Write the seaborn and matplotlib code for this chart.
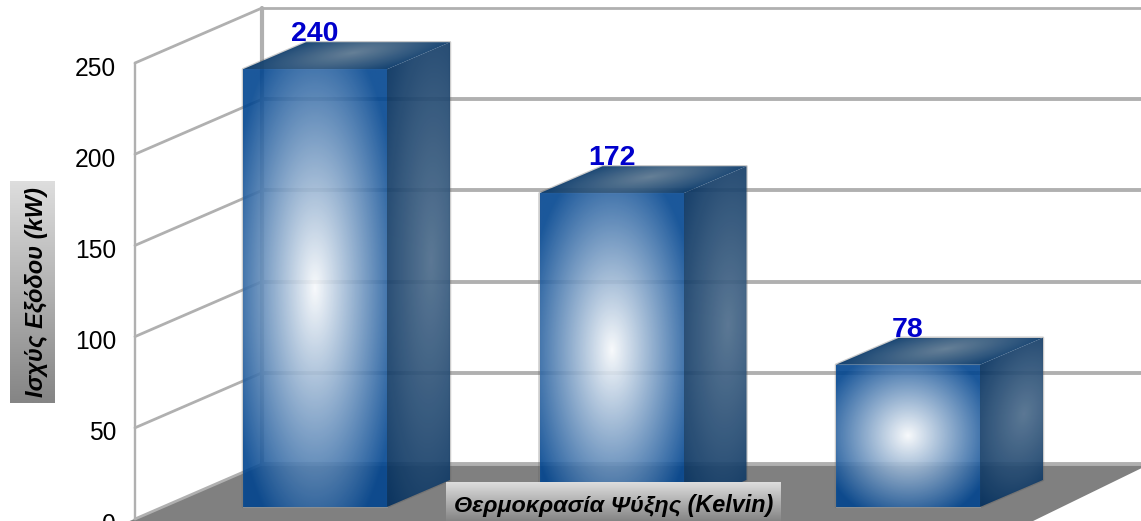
import numpy as np
import matplotlib
matplotlib.use("Agg")
import matplotlib.pyplot as plt
from matplotlib.patches import Polygon
from matplotlib.transforms import ScaledTranslation
import seaborn as sns

# ---- data ----
categories = ["Α", "Β", "Γ"]
values = [240, 172, 78]
y_ticks = [0, 50, 100, 150, 200, 250]
y_title = "Ισχύς Εξόδου (kW)"
x_title = "Θερμοκρασία Ψύξης (Kelvin)"

# ---- style / geometry ----
W, H, DPI = 1141, 521, 100
X0_PX, STEP_PX = 315.0, 296.5       # first bar centre, bar spacing
BASE_PX, UNIT_PX = 507.0, 1.824     # bar baseline, px per value unit
BAR_W = 144.0 / STEP_PX
BAR_DX, BAR_DV = 63.0 / STEP_PX, 27.0 / UNIT_PX
WALL_F = ((135.0 - X0_PX) / STEP_PX, (BASE_PX - 519.0) / UNIT_PX)
WALL_B = ((262.0 - X0_PX) / STEP_PX, (BASE_PX - 464.0) / UNIT_PX)
RIGHT = (1150.0 - X0_PX) / STEP_PX
FLOOR_L = (125.0 - X0_PX) / STEP_PX
FLOOR_R = (1029.0 - X0_PX) / STEP_PX
FLOOR_F = (BASE_PX - 523.0) / UNIT_PX
GRID = "#b0b0b0"

sns.set_style("white")
plt.rcParams["font.family"] = ["Liberation Sans", "DejaVu Sans"]

fig = plt.figure(figsize=(W / DPI, H / DPI), dpi=DPI, facecolor="white")
ax = fig.add_axes([0, 0, 1, 1], facecolor="none")

sns.barplot(x=categories, y=values, color="#1a5a9a", saturation=1, width=BAR_W,
            alpha=0.22, zorder=2, ax=ax)

xlim = (-X0_PX / STEP_PX, (W - X0_PX) / STEP_PX)
ylim = ((BASE_PX - H) / UNIT_PX, BASE_PX / UNIT_PX)


def face(origin, e1, e2, center, inner, outer, alpha, rad, power=1.0, z=3):
    """Paint a radial gradient on the parallelogram origin + u*e1 + v*e2."""
    o, a, b = map(np.asarray, (origin, e1, e2))
    pts = np.array([o, o + a, o + a + b, o + b])
    xs = np.linspace(pts[:, 0].min(), pts[:, 0].max(), 220)
    ys = np.linspace(pts[:, 1].min(), pts[:, 1].max(), 220)
    gx, gy = np.meshgrid(xs, ys)
    M = np.linalg.inv(np.array([a, b]).T)
    u = M[0, 0] * (gx - o[0]) + M[0, 1] * (gy - o[1])
    v = M[1, 0] * (gx - o[0]) + M[1, 1] * (gy - o[1])
    r = np.hypot((u - center[0]) / rad[0], (v - center[1]) / rad[1])
    t = np.clip(r, 0, 1)[..., None] ** power
    rgb = (1 - t) * np.array(matplotlib.colors.to_rgb(inner)) + t * np.array(matplotlib.colors.to_rgb(outer))
    img = np.dstack([rgb, np.full(gx.shape, alpha)])
    im = ax.imshow(img, extent=(xs[0], xs[-1], ys[0], ys[-1]), origin="lower",
                   aspect="auto", interpolation="bilinear", zorder=z)
    clip = Polygon(pts, closed=True, transform=ax.transData)
    im.set_clip_path(clip)


# floor
fy, by = WALL_F[1], WALL_B[1]
ax.add_patch(Polygon([(FLOOR_L, FLOOR_F), (WALL_B[0], by), (RIGHT, by), (FLOOR_R, FLOOR_F)],
                     closed=True, facecolor="#808080", edgecolor="none", zorder=0.5))

# walls and gridlines
for tv in y_ticks:
    lw = 2.0 if tv == y_ticks[-1] else 2.8
    ax.plot([WALL_B[0], xlim[1]], [tv + by, tv + by], color=GRID, lw=lw, zorder=1,
            solid_capstyle="butt")
    ax.plot([WALL_F[0], WALL_B[0]], [tv + fy, tv + by], color=GRID, lw=2.0, zorder=1)
ax.plot([WALL_F[0]] * 2, [y_ticks[0] + fy, y_ticks[-1] + fy], color=GRID, lw=1.7, zorder=1)
ax.plot([WALL_B[0]] * 2, [y_ticks[0] + by, y_ticks[-1] + by], color=GRID, lw=3.0, zorder=1)

# 3D faces around every seaborn bar
for bar in ax.containers[0]:
    x0, w, h = bar.get_x(), bar.get_width(), bar.get_height()
    ax.add_patch(Polygon([(x0, 0), (x0, h), (x0 + BAR_DX, h + BAR_DV),
                          (x0 + w + BAR_DX, h + BAR_DV), (x0 + w + BAR_DX, BAR_DV), (x0 + w, 0)],
                         closed=True, facecolor="none", edgecolor="#555555", alpha=0.3, lw=1.8,
                         joinstyle="round", zorder=1.8))
    face((x0, 0), (w, 0), (0, h), (0.5, 0.5), "#ffffff", "#00448f", 0.87, (0.62, 0.62), power=1.0)
    face((x0 + w, 0), (BAR_DX, BAR_DV), (0, h), (0.7, 0.52), "#4f6e8d", "#04305e", 0.93, (1.0, 0.7))
    face((x0, h), (w, 0), (BAR_DX, BAR_DV), (0.5, 0.6), "#5f7a92", "#07386a", 0.96, (0.62, 1.1))

ax.set_xlim(*xlim)
ax.set_ylim(*ylim)

# value labels
ax.bar_label(ax.containers[0], labels=[str(v) for v in values], padding=15.7,
             color="#0000cc", fontsize=20.5, fontweight="bold", zorder=6)

# axes furniture
ax.set_xticks([])
ax.set_yticks(y_ticks)
ax.set_yticklabels([str(t) for t in y_ticks])
ax.set_xlabel("")
ax.set_ylabel("")
ax.tick_params(axis="y", length=0, pad=-116 * 72 / DPI, labelsize=17.7, labelcolor="black")
shift = ScaledTranslation(0, -15 / DPI, fig.dpi_scale_trans)
for lab in ax.get_yticklabels():
    lab.set_transform(lab.get_transform() + shift)
sns.despine(ax=ax, left=True, bottom=True)


def label_box(x0, y0, x1, y1, text, rotation, size, light="#dddddd", dark="#858585", tx=0.5, ty=0.5):
    box = fig.add_axes([x0 / W, 1 - y1 / H, (x1 - x0) / W, (y1 - y0) / H])
    c0 = np.array(matplotlib.colors.to_rgb(light))
    c1 = np.array(matplotlib.colors.to_rgb(dark))
    t = np.linspace(0, 1, 64)[:, None]
    grad = ((1 - t) * c0 + t * c1)[:, None, :]
    box.imshow(grad, aspect="auto", interpolation="bilinear")
    box.set_axis_off()
    box.text(tx, ty, text, transform=box.transAxes, rotation=rotation, ha="center",
             va="center", fontsize=size, fontstyle="italic", fontweight="bold", color="black")


label_box(10, 181, 55, 403, y_title, 90, 17.0, tx=0.58)
label_box(446, 482, 781, 521, x_title, 0, 16.8, ty=0.40)

fig.savefig("out.png", dpi=DPI)
